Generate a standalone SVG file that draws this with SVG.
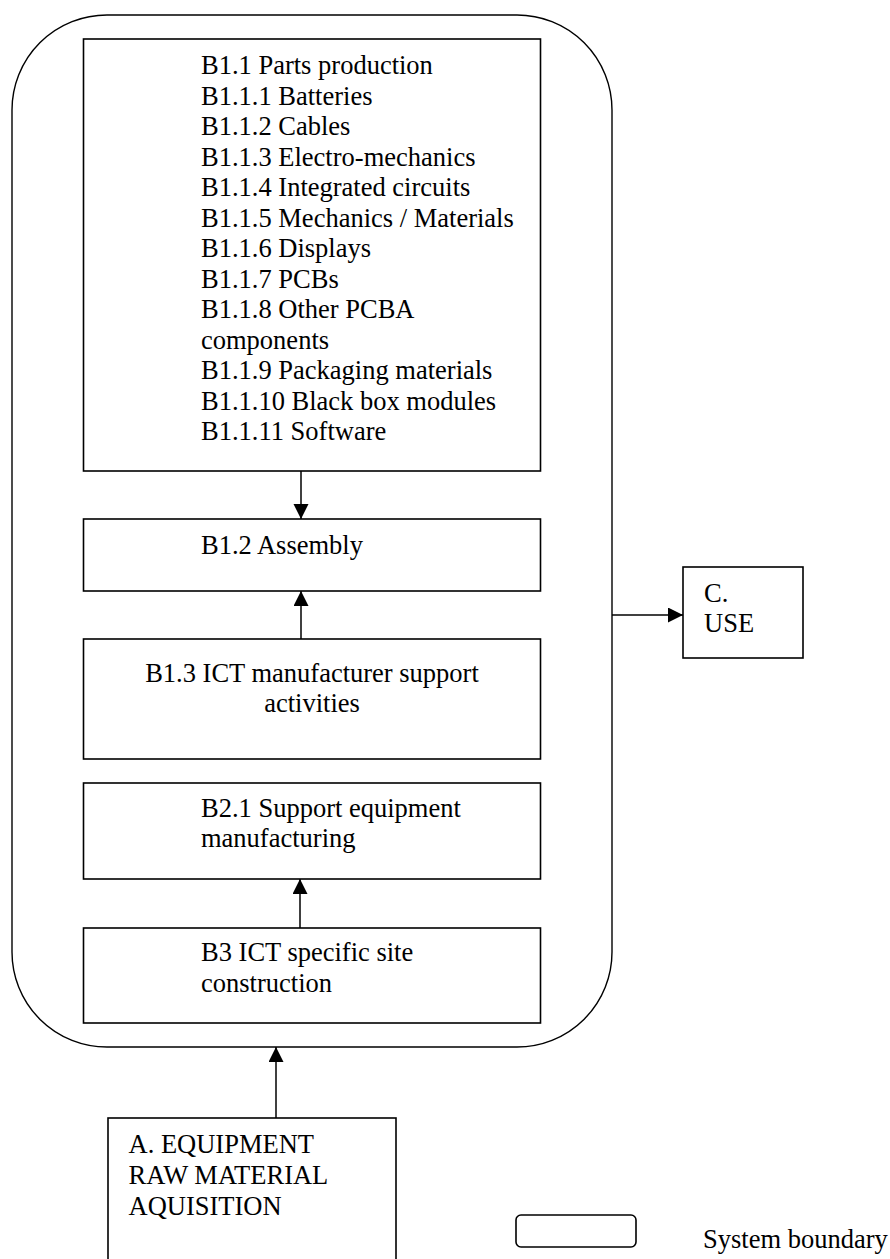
<svg xmlns="http://www.w3.org/2000/svg" width="890" height="1259" viewBox="0 0 890 1259">
<defs>
<style>
.box{fill:#fff;stroke:#000;stroke-width:1.6}
.bound{fill:none;stroke:#000;stroke-width:1.4}
.t{font-family:"Liberation Serif","Times New Roman",serif;font-size:26.5px;fill:#000}
.c{text-anchor:middle}
.conn{stroke:#000;stroke-width:1.5;fill:none}
</style>
<marker id="ah" markerUnits="userSpaceOnUse" markerWidth="16" markerHeight="16" refX="15" refY="7.5" orient="auto">
<path d="M0,0 L15,7.5 L0,15 z" fill="#000"/>
</marker>
</defs>
<rect width="890" height="1259" fill="#fff"/>
<g id="system-boundary">
<rect class="bound" x="12" y="15" width="600" height="1032" rx="95" ry="95"/>
</g>
<g id="b11">
<rect class="box" x="83.5" y="39" width="457" height="432"/>
<text class="t" x="201" y="74">B1.1 Parts production</text>
<text class="t" x="201" y="104.5">B1.1.1 Batteries</text>
<text class="t" x="201" y="135">B1.1.2 Cables</text>
<text class="t" x="201" y="165.5">B1.1.3 Electro-mechanics</text>
<text class="t" x="201" y="196">B1.1.4 Integrated circuits</text>
<text class="t" x="201" y="226.5">B1.1.5 Mechanics / Materials</text>
<text class="t" x="201" y="257">B1.1.6 Displays</text>
<text class="t" x="201" y="287.5">B1.1.7 PCBs</text>
<text class="t" x="201" y="318">B1.1.8 Other PCBA</text>
<text class="t" x="201" y="348.5">components</text>
<text class="t" x="201" y="379">B1.1.9 Packaging materials</text>
<text class="t" x="201" y="409.5">B1.1.10 Black box modules</text>
<text class="t" x="201" y="440">B1.1.11 Software</text>
</g>
<g id="b12">
<rect class="box" x="83.5" y="519" width="457" height="72"/>
<text class="t" x="201" y="554">B1.2 Assembly</text>
</g>
<g id="b13">
<rect class="box" x="83.5" y="639" width="457" height="120"/>
<text class="t c" x="312" y="682">B1.3 ICT manufacturer support</text>
<text class="t c" x="312" y="712">activities</text>
</g>
<g id="b21">
<rect class="box" x="83.5" y="783" width="457" height="96"/>
<text class="t" x="201" y="817">B2.1 Support equipment</text>
<text class="t" x="201" y="847">manufacturing</text>
</g>
<g id="b3">
<rect class="box" x="83.5" y="928" width="457" height="95"/>
<text class="t" x="201" y="961">B3 ICT specific site</text>
<text class="t" x="201" y="992">construction</text>
</g>
<g id="c-use">
<rect class="box" x="683" y="567" width="120" height="91"/>
<text class="t" x="704" y="602">C.</text>
<text class="t" x="704" y="632">USE</text>
</g>
<g id="a-raw">
<rect class="box" x="108" y="1118" width="288" height="160"/>
<text class="t" x="128.5" y="1153">A. EQUIPMENT</text>
<text class="t" x="128.5" y="1184">RAW MATERIAL</text>
<text class="t" x="128.5" y="1215">AQUISITION</text>
</g>
<g id="legend">
<rect class="box" x="516" y="1215" width="120" height="32" rx="5" ry="5"/>
<text class="t" x="703" y="1248">System boundary</text>
</g>
<g id="connectors">
<line class="conn" x1="301" y1="471" x2="301" y2="519" marker-end="url(#ah)"/>
<line class="conn" x1="301" y1="639" x2="301" y2="591" marker-end="url(#ah)"/>
<line class="conn" x1="300" y1="928" x2="300" y2="879" marker-end="url(#ah)"/>
<line class="conn" x1="276" y1="1118" x2="276" y2="1047" marker-end="url(#ah)"/>
<line class="conn" x1="612" y1="615" x2="683" y2="615" marker-end="url(#ah)"/>
</g>
</svg>
